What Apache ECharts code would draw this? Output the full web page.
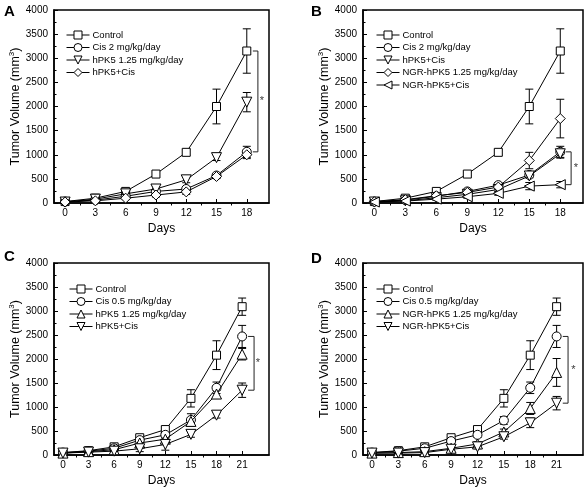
<!DOCTYPE html>
<html>
<head>
<meta charset="utf-8">
<script src="https://cdn.jsdelivr.net/npm/echarts@6/dist/echarts.min.js"></script>
<style>html,body{margin:0;padding:0;background:#fff}#c{width:587px;height:493px}</style>
</head>
<body>
<div id="c"></div>
<script>
// ---------- data ----------
const daysAB = [0, 3, 6, 9, 12, 15, 18];
const daysCD = [0, 3, 6, 9, 12, 15, 18, 21];
const yTicks = [0, 500, 1000, 1500, 2000, 2500, 3000, 3500, 4000];

// Panel A
const aControl    = [30, 100, 240, 600, 1050, 2000, 3150];
const aControlErr = [15, 30, 40, 40, 60, 360, 460];
const aCis2       = [30, 60, 140, 240, 290, 570, 1060];
const aCis2Err    = [10, 20, 30, 40, 50, 40, 115];
const aHpk5       = [20, 80, 190, 290, 480, 940, 2090];
const aHpk5Err    = [10, 20, 40, 50, 60, 60, 200];
const aCombo      = [20, 45, 100, 165, 230, 550, 1000];
const aComboErr   = [10, 15, 30, 40, 50, 40, 80];

// Panel B
const bControl    = [30, 100, 240, 600, 1050, 2000, 3150];
const bControlErr = [15, 30, 40, 40, 60, 360, 460];
const bCis2       = [30, 60, 140, 240, 370, 580, 1060];
const bCis2Err    = [10, 20, 30, 40, 50, 40, 115];
const bHpk5Cis    = [20, 45, 110, 180, 280, 560, 1020];
const bHpk5CisErr = [10, 15, 30, 40, 50, 40, 90];
const bNgr        = [25, 70, 150, 220, 330, 880, 1750];
const bNgrErr     = [10, 20, 30, 40, 50, 170, 400];
const bNgrCis     = [20, 40, 80, 130, 200, 350, 380];
const bNgrCisErr  = [10, 15, 20, 30, 40, 75, 65];

// Panel C
const cControl    = [50, 90, 170, 360, 530, 1180, 2080, 3090];
const cControlErr = [20, 30, 40, 40, 60, 180, 300, 180];
const cCis05      = [50, 80, 140, 310, 420, 730, 1400, 2470];
const cCis05Err   = [15, 25, 30, 40, 50, 130, 120, 230];
const cHpk5       = [40, 70, 110, 250, 330, 700, 1270, 2100];
const cHpk5Err    = [15, 20, 30, 40, 50, 60, 80, 120];
const cCombo      = [40, 60, 80, 130, 220, 430, 830, 1350];
const cComboErr   = [10, 15, 20, 60, 120, 60, 60, 150];

// Panel D
const dControl    = [50, 90, 170, 360, 530, 1180, 2080, 3090];
const dControlErr = [20, 30, 40, 40, 60, 180, 300, 180];
const dCis05      = [50, 80, 140, 290, 420, 720, 1400, 2470];
const dCis05Err   = [15, 25, 30, 40, 50, 80, 120, 230];
const dNgr        = [40, 50, 70, 140, 230, 480, 970, 1720];
const dNgrErr     = [10, 15, 20, 40, 50, 60, 125, 290];
const dNgrCis     = [40, 40, 50, 120, 170, 380, 670, 1080];
const dNgrCisErr  = [10, 15, 20, 30, 40, 50, 100, 140];

// ---------- chart ----------
const FONT = 'Liberation Sans, Arial, sans-serif';
const SYM = {
  square:  { symbol: 'rect', size: 8, rot: 0 },
  circle:  { symbol: 'circle', size: 9, rot: 0 },
  up:      { symbol: 'triangle', size: 10, rot: 0 },
  down:    { symbol: 'triangle', size: 10, rot: 180 },
  diamond: { symbol: 'diamond', size: 10, rot: 0 },
  left:    { symbol: 'triangle', size: 10, rot: 90 }
};

const panels = [
  { id: 'A', days: daysAB, xmin: -1.1, xmax: 20.2,
    grid: { left: 54, top: 10, width: 215, height: 193 },
    letter: { left: 4, top: 4 }, legend: { left: 66, top: 30 },
    series: [
      ['Control', aControl, aControlErr, 'square'],
      ['Cis 2 mg/kg/day', aCis2, aCis2Err, 'circle'],
      ['hPK5 1.25 mg/kg/day', aHpk5, aHpk5Err, 'down'],
      ['hPK5+Cis', aCombo, aComboErr, 'diamond']
    ],
    bracket: [aControl, aCis2], bOff: [0.6, 1.1, 1.5] },
  { id: 'B', days: daysAB, xmin: -1.1, xmax: 20.2,
    grid: { left: 363, top: 10, width: 220, height: 193 },
    letter: { left: 311, top: 4 }, legend: { left: 376, top: 30 },
    series: [
      ['Control', bControl, bControlErr, 'square'],
      ['Cis 2 mg/kg/day', bCis2, bCis2Err, 'circle'],
      ['hPK5+Cis', bHpk5Cis, bHpk5CisErr, 'down'],
      ['NGR-hPK5 1.25 mg/kg/day', bNgr, bNgrErr, 'diamond'],
      ['NGR-hPK5+Cis', bNgrCis, bNgrCisErr, 'left']
    ],
    bracket: [bCis2, bNgrCis], bOff: [0.55, 1.05, 1.5] },
  { id: 'C', days: daysCD, xmin: -1.05, xmax: 24.15,
    grid: { left: 54, top: 263, width: 215, height: 192 },
    letter: { left: 4, top: 249 }, legend: { left: 69, top: 284 },
    series: [
      ['Control', cControl, cControlErr, 'square'],
      ['Cis 0.5 mg/kg/day', cCis05, cCis05Err, 'circle'],
      ['hPK5 1.25 mg/kg/day', cHpk5, cHpk5Err, 'up'],
      ['hPK5+Cis', cCombo, cComboErr, 'down']
    ],
    bracket: [cCis05, cCombo], bOff: [0.7, 1.4, 1.85] },
  { id: 'D', days: daysCD, xmin: -1.02, xmax: 24.0,
    grid: { left: 363, top: 263, width: 220, height: 192 },
    letter: { left: 311, top: 251 }, legend: { left: 376, top: 284 },
    series: [
      ['Control', dControl, dControlErr, 'square'],
      ['Cis 0.5 mg/kg/day', dCis05, dCis05Err, 'circle'],
      ['NGR-hPK5 1.25 mg/kg/day', dNgr, dNgrErr, 'up'],
      ['NGR-hPK5+Cis', dNgrCis, dNgrCisErr, 'down']
    ],
    bracket: [dCis05, dNgrCis], bOff: [0.7, 1.3, 1.9] }
];

function errRender(params, api) {
  const x = api.value(0), y = api.value(1), e = api.value(2);
  const t = api.coord([x, y + e]);
  const b = api.coord([x, y - e]);
  const hw = 4;
  const st = { stroke: '#000', lineWidth: 1 };
  return { type: 'group', children: [
    { type: 'line', shape: { x1: t[0], y1: t[1], x2: b[0], y2: b[1] }, style: st },
    { type: 'line', shape: { x1: t[0] - hw, y1: t[1], x2: t[0] + hw, y2: t[1] }, style: st },
    { type: 'line', shape: { x1: b[0] - hw, y1: b[1], x2: b[0] + hw, y2: b[1] }, style: st }
  ]};
}

const option = {
  animation: false,
  backgroundColor: '#fff',
  textStyle: { fontFamily: FONT },
  title: [], grid: [], xAxis: [], yAxis: [], legend: [], series: []
};

panels.forEach((p, pi) => {
  option.title.push({
    text: p.id, left: p.letter.left, top: p.letter.top, padding: 0,
    textStyle: { fontFamily: FONT, fontSize: 15, fontWeight: 'bold', color: '#000' }
  });
  option.grid.push(Object.assign({ show: true, borderColor: '#000', borderWidth: 1.5, backgroundColor: 'transparent' }, p.grid));
  const minor = [];
  for (let i = 0; i < p.days.length - 1; i++) minor.push((p.days[i] + p.days[i + 1]) / 2);
  option.xAxis.push({
    type: 'value', gridIndex: pi, min: p.xmin, max: p.xmax,
    name: 'Days', nameLocation: 'middle', nameGap: 20,
    nameTextStyle: { fontFamily: FONT, fontSize: 12, color: '#000' },
    axisLine: { show: true, onZero: false, lineStyle: { color: '#000', width: 1.5 } },
    axisTick: { show: true, inside: true, length: 4, customValues: p.days, lineStyle: { color: '#000' } },
    axisLabel: { show: true, customValues: p.days, fontSize: 10, color: '#000', margin: 5, fontFamily: FONT },
    splitLine: { show: false }
  });
  option.xAxis.push({
    type: 'value', gridIndex: pi, min: p.xmin, max: p.xmax,
    axisLine: { show: false },
    axisTick: { show: true, inside: true, length: 2.5, customValues: minor, lineStyle: { color: '#000' } },
    axisLabel: { show: false },
    splitLine: { show: false }
  });
  option.yAxis.push({
    type: 'value', gridIndex: pi, min: 0, max: 4000, interval: 500,
    name: '{a|Tumor Volume (mm}{s|3}{a|)}', nameLocation: 'middle', nameGap: 30, nameRotate: 90,
    nameTextStyle: { rich: {
      a: { fontFamily: FONT, fontSize: 12.5, color: '#000' },
      s: { fontFamily: FONT, fontSize: 8, color: '#000', verticalAlign: 'top', padding: [0, 0, 7, 0] }
    } },
    axisLine: { show: true, onZero: false, lineStyle: { color: '#000', width: 1.5 } },
    axisTick: { show: true, inside: true, length: 4, lineStyle: { color: '#000' } },
    minorTick: { show: true, splitNumber: 2, length: 2.5, lineStyle: { color: '#000' } },
    axisLabel: { fontSize: 10, color: '#000', margin: 6, fontFamily: FONT, formatter: v => String(v) },
    splitLine: { show: false }
  });
  const names = [];
  p.series.forEach((s, si) => {
    const [label, vals, errs, shape] = s;
    const nm = p.id + '#' + label;
    names.push(nm);
    const sym = SYM[shape];
    option.series.push({
      type: 'custom', xAxisIndex: pi * 2, yAxisIndex: pi, z: 1, silent: true,
      renderItem: errRender,
      data: p.days.map((d, i) => [d, vals[i], errs[i]])
    });
    option.series.push({
      type: 'line', name: nm, xAxisIndex: pi * 2, yAxisIndex: pi, z: 3 + si,
      data: p.days.map((d, i) => [d, vals[i]]),
      symbol: sym.symbol, symbolSize: sym.size, symbolRotate: sym.rot, showAllSymbol: true,
      lineStyle: { color: '#000', width: 1 },
      itemStyle: { color: '#fff', borderColor: '#000', borderWidth: 1 }
    });
  });
  option.legend.push({
    data: names, orient: 'vertical', left: p.legend.left, top: p.legend.top,
    padding: 0, itemGap: 2.5, itemWidth: 23, itemHeight: 10,
    formatter: n => n.split('#')[1],
    itemStyle: { color: '#fff', borderColor: '#000', borderWidth: 1 },
    lineStyle: { color: '#000', width: 1 },
    textStyle: { fontFamily: FONT, fontSize: 9.5, color: '#000', padding: [0, 0, 0, -2] },
    selectedMode: false
  });
  // significance bracket between the last values of two series
  const last = p.days[p.days.length - 1];
  const top = p.bracket[0][p.bracket[0].length - 1];
  const bot = p.bracket[1][p.bracket[1].length - 1];
  const [o1, o2, o3] = p.bOff;
  option.series.push({
    type: 'line', xAxisIndex: pi * 2, yAxisIndex: pi, silent: true, symbol: 'none', z: 2,
    lineStyle: { color: '#222', width: 1 },
    data: [[last + o1, top], [last + o2, top], [last + o2, bot], [last + o1, bot]]
  });
  option.series.push({
    type: 'scatter', xAxisIndex: pi * 2, yAxisIndex: pi, silent: true, symbolSize: 0,
    data: [[last + o3, (top + bot) / 2]],
    label: { show: true, position: 'inside', formatter: '*', fontSize: 11, color: '#000', fontFamily: FONT }
  });
});

const chart = echarts.init(document.getElementById('c'), null, { renderer: 'canvas' });
chart.setOption(option);
</script>
</body>
</html>
